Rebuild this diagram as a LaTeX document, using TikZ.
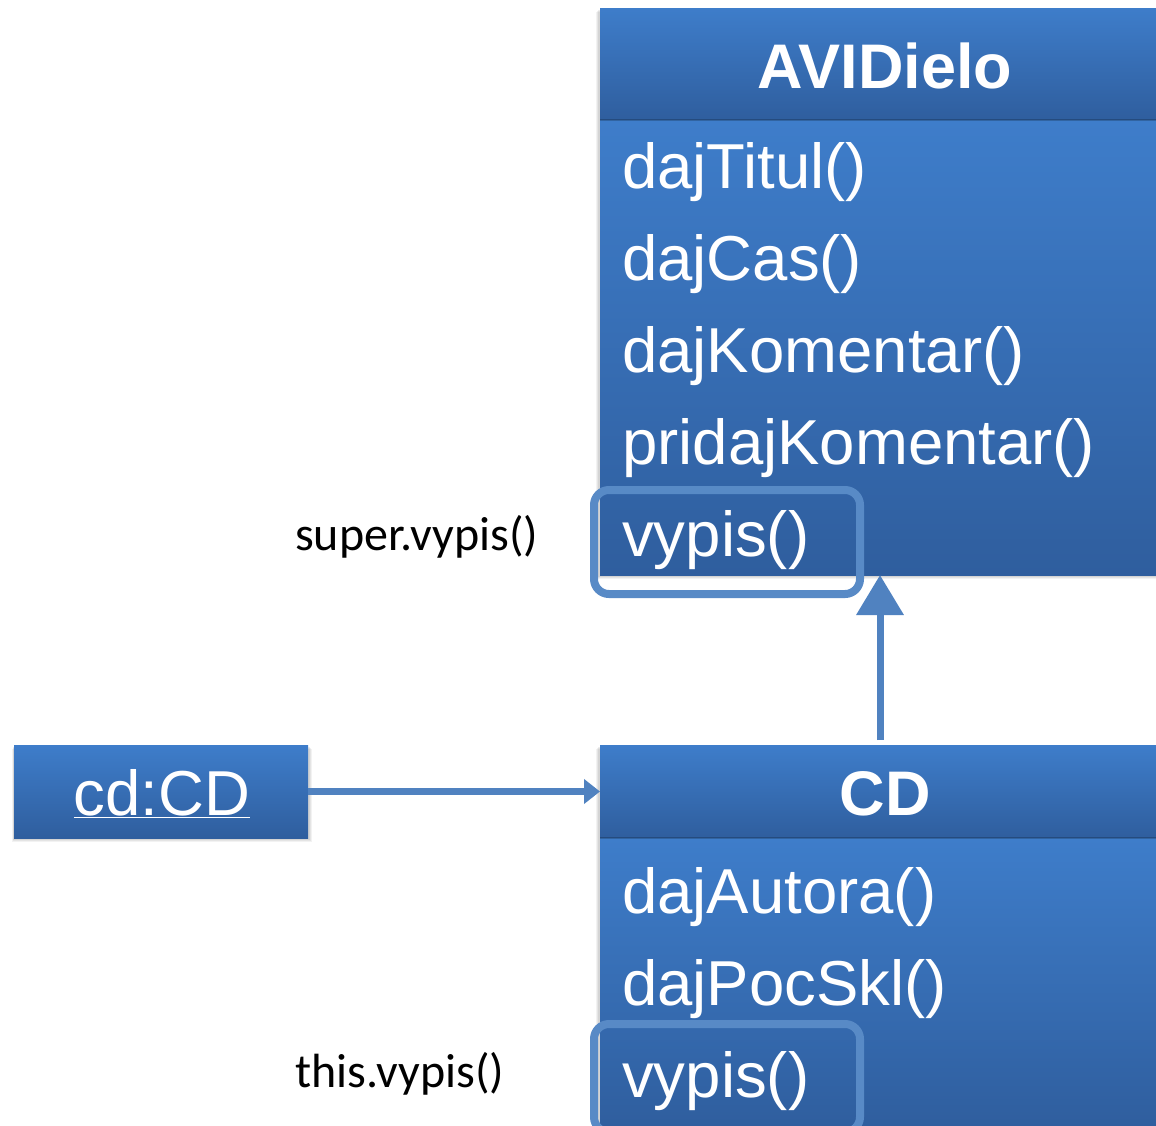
\documentclass[tikz,border=0pt]{standalone}
\usepackage{fontspec}
\setmainfont{Liberation Sans}
\newfontfamily\lblfont{Carlito}
\usetikzlibrary{arrows.meta}
\definecolor{topblue}{RGB}{62,125,202}
\definecolor{botblue}{RGB}{47,94,158}
\definecolor{linkblue}{RGB}{80,130,192}
\definecolor{hlblue}{RGB}{88,138,198}
\tikzset{
  boxpart/.style={draw=none, top color=topblue, bottom color=botblue, inner sep=0, outer sep=0},
  mtext/.style={anchor=base west, text=white, inner sep=0, font=\fontsize{63.5}{65}\selectfont},
  ttext/.style={anchor=base, text=white, inner sep=0, font=\bfseries\fontsize{63}{65}\selectfont},
  lbl/.style={anchor=base west, text=black, inner sep=0, font=\lblfont\fontsize{48}{50}\selectfont},
  hlbox/.style={draw=hlblue, line width=8pt, rounded corners=15pt, inner sep=0},
  link/.style={draw=linkblue, line width=7pt},
}
\begin{document}
\begin{tikzpicture}[x=1pt,y=-1pt]
\useasboundingbox (0,0) rectangle (1156,1125);
% soft shadows
\foreach \d/\o in {4/0.05,3/0.06,2/0.07}{
  \fill[black, opacity=\o] (600-\d,8+\d) rectangle (1160,575+\d);
  \fill[black, opacity=\o] (600-\d,745+\d) rectangle (1160,1130);
  \fill[black, opacity=\o] (14-\d/2,745+\d) rectangle (308+\d,838+\d);
}
% AVIDielo
\node[boxpart, minimum width=556, minimum height=112, anchor=north west] (avih) at (600,8) {};
\node[boxpart, minimum width=556, minimum height=455, anchor=north west] (avib) at (600,120) {};
\draw[black, opacity=0.2, line width=1.5pt] (600,120) -- (1156,120);
\node[ttext] (avit) at (885,88) {AVIDielo};
\node[mtext] (m1) at (622,188) {dajTitul()};
\node[mtext] (m2) at (622,280) {dajCas()};
\node[mtext] (m3) at (622,372) {dajKomentar()};
\node[mtext] (m4) at (622,464) {pridajKomentar()};
\node[mtext] (m5) at (622,556) {vypis()};
\node[hlbox, minimum width=266, minimum height=104, anchor=north west] (hl1) at (590,486) {};
% CD
\node[boxpart, minimum width=556, minimum height=93, anchor=north west] (cdh) at (600,745) {};
\node[boxpart, minimum width=556, minimum height=290, anchor=north west] (cdb) at (600,838) {};
\draw[black, opacity=0.2, line width=1.5pt] (600,838) -- (1156,838);
\node[ttext] (cdt) at (885,815) {CD};
\node[mtext] (c1) at (622,913) {dajAutora()};
\node[mtext] (c2) at (622,1005) {dajPocSkl()};
\node[mtext] (c3) at (622,1097) {vypis()};
\node[hlbox, minimum width=266, minimum height=108, anchor=north west] (hl2) at (590,1020) {};
% object
\node[boxpart, minimum width=294, minimum height=93, anchor=north west] (obj) at (14,745) {};
\node[mtext, anchor=base] (objt) at (162,815) {\underline{cd:CD}};
% labels
\node[lbl] (l1) at (295,550) {super.vypis()};
\node[lbl] (l2) at (295,1087) {this.vypis()};
% connectors
\coordinate (inhbot) at (880,740);
\coordinate (inhtop) at (880,575);
\draw[link, -{Triangle[length=40pt,width=46pt,fill=linkblue]}] (inhbot) -- (inhtop);
\draw[link, -{Triangle[length=16pt,width=24pt,fill=linkblue]}] (obj.east) -- (cdh.west);
\end{tikzpicture}
\end{document}
